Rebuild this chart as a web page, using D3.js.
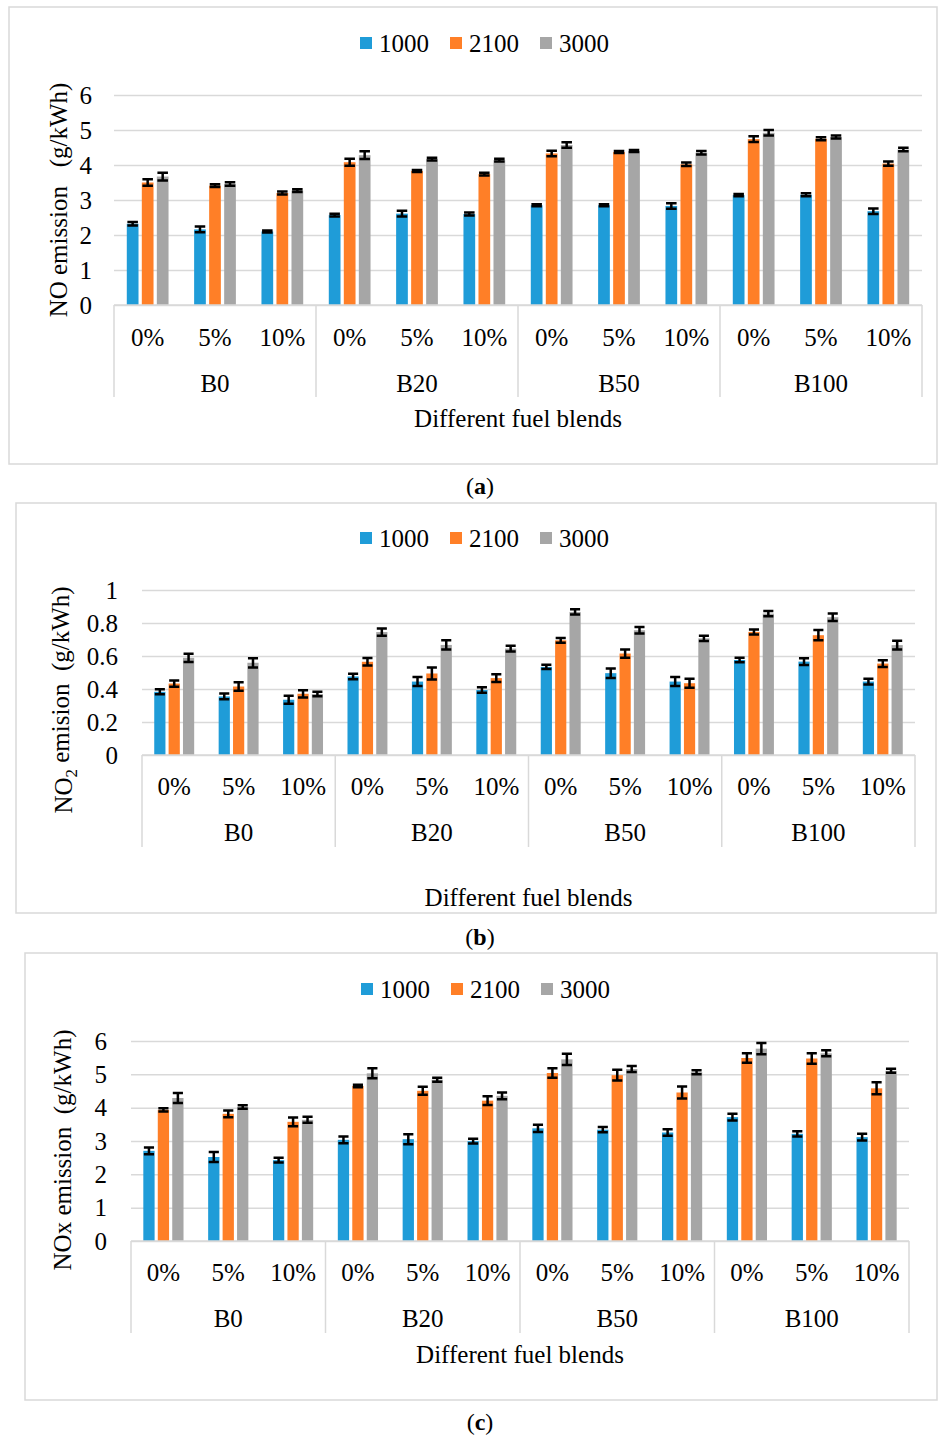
<!DOCTYPE html>
<html>
<head>
<meta charset="utf-8">
<script src="https://cdn.jsdelivr.net/npm/d3@7"></script>
<style>
body { margin: 0; background: #fff; }
svg { display: block; }
text { font-family: "Liberation Serif", "Times New Roman", serif; fill: #000; }
</style>
</head>
<body>
<div id="chart"></div>
<script>
// categories
var subLabels = ['0%', '5%', '10%'];
var blendLabels = ['B0', 'B20', 'B50', 'B100'];
var seriesNames = ['1000', '2100', '3000'];
var colors = ['#1f9cd8', '#ff7f27', '#a6a6a6'];

// (a) NO emission, 12 bars per series (B0 0/5/10, B20 ..., B50 ..., B100 ...)
var no1000 = [2.32, 2.16, 2.10, 2.57, 2.61, 2.60, 2.85, 2.85, 2.83, 3.14, 3.15, 2.68];
var no2100 = [3.50, 3.41, 3.20, 4.08, 3.83, 3.74, 4.33, 4.37, 4.02, 4.74, 4.75, 4.04];
var no3000 = [3.67, 3.46, 3.27, 4.28, 4.17, 4.14, 4.57, 4.40, 4.35, 4.92, 4.80, 4.44];
var noErr1000 = [0.05, 0.08, 0.03, 0.04, 0.08, 0.04, 0.03, 0.03, 0.08, 0.03, 0.04, 0.08];
var noErr2100 = [0.09, 0.04, 0.04, 0.1, 0.03, 0.04, 0.08, 0.03, 0.05, 0.08, 0.04, 0.06];
var noErr3000 = [0.11, 0.05, 0.04, 0.11, 0.04, 0.04, 0.08, 0.03, 0.05, 0.08, 0.04, 0.05];
var noTicks = [0, 1, 2, 3, 4, 5, 6];
var noTickLabels = ['0', '1', '2', '3', '4', '5', '6'];

// (b) NO2 emission
var no2_1000 = [0.383, 0.355, 0.335, 0.476, 0.445, 0.394, 0.534, 0.496, 0.445, 0.576, 0.566, 0.445];
var no2_2100 = [0.433, 0.415, 0.371, 0.565, 0.494, 0.466, 0.695, 0.615, 0.435, 0.746, 0.726, 0.554];
var no2_3000 = [0.589, 0.559, 0.370, 0.745, 0.667, 0.645, 0.867, 0.756, 0.707, 0.857, 0.835, 0.666];
var no2Err1000 = [0.015, 0.017, 0.024, 0.017, 0.027, 0.016, 0.013, 0.029, 0.027, 0.014, 0.02, 0.017];
var no2Err2100 = [0.019, 0.026, 0.022, 0.023, 0.037, 0.023, 0.014, 0.025, 0.027, 0.015, 0.031, 0.02];
var no2Err3000 = [0.025, 0.028, 0.014, 0.022, 0.028, 0.017, 0.016, 0.02, 0.016, 0.016, 0.023, 0.027];
var no2Ticks = [0, 0.2, 0.4, 0.6, 0.8, 1];
var no2TickLabels = ['0', '0.2', '0.4', '0.6', '0.8', '1'];

// (c) NOx emission
var nox1000 = [2.705, 2.52, 2.425, 3.035, 3.055, 2.995, 3.38, 3.34, 3.255, 3.715, 3.215, 3.115];
var nox2100 = [3.935, 3.815, 3.575, 4.65, 4.505, 4.21, 5.04, 4.975, 4.455, 5.49, 5.475, 4.58];
var nox3000 = [4.29, 4.02, 3.635, 5.03, 4.84, 4.355, 5.45, 5.16, 5.065, 5.77, 5.63, 5.105];
var noxErr1000 = [0.1, 0.15, 0.07, 0.1, 0.15, 0.07, 0.11, 0.08, 0.1, 0.1, 0.08, 0.1];
var noxErr2100 = [0.05, 0.1, 0.13, 0.04, 0.12, 0.13, 0.14, 0.16, 0.18, 0.14, 0.16, 0.18];
var noxErr3000 = [0.15, 0.05, 0.09, 0.15, 0.06, 0.1, 0.17, 0.09, 0.06, 0.17, 0.09, 0.06];
var noxTicks = [0, 1, 2, 3, 4, 5, 6];
var noxTickLabels = ['0', '1', '2', '3', '4', '5', '6'];

var fs = 25;

var svg = d3.select('#chart')
    .append('svg')
    .attr('width', 939)
    .attr('height', 1436);

var panels = [
    {values: [no1000, no2100, no3000], errs: [noErr1000, noErr2100, noErr3000],
     ticks: noTicks, tickLabels: noTickLabels, max: 6, caption: 'a',
     box: [9, 7, 928, 457], legendX: 360, legendY: 43,
     left: 114, right: 922, y0: 305, yTop: 95, tickPad: 22,
     titleX: 58, titleY: 200, yTitle: ['NO emission   (g/kWh)'],
     subY: 337, groupY: 383, axisBottom: 397, xTitleY: 418, captionY: 486},
    {values: [no2_1000, no2_2100, no2_3000], errs: [no2Err1000, no2Err2100, no2Err3000],
     ticks: no2Ticks, tickLabels: no2TickLabels, max: 1, caption: 'b',
     box: [16, 503, 920, 410], legendX: 360, legendY: 538,
     left: 142, right: 915, y0: 755, yTop: 590, tickPad: 24,
     titleX: 63, titleY: 700, yTitle: ['NO', '2', ' emision  (g/kWh)'],
     subY: 786, groupY: 832, axisBottom: 847, xTitleY: 897, captionY: 937},
    {values: [nox1000, nox2100, nox3000], errs: [noxErr1000, noxErr2100, noxErr3000],
     ticks: noxTicks, tickLabels: noxTickLabels, max: 6, caption: 'c',
     box: [25, 953, 912, 447], legendX: 361, legendY: 989,
     left: 131, right: 909, y0: 1241, yTop: 1041, tickPad: 24,
     titleX: 62, titleY: 1150, yTitle: ['NOx emission  (g/kWh)'],
     subY: 1272, groupY: 1318, axisBottom: 1333, xTitleY: 1354, captionY: 1422}
];

panels.forEach(drawPanel);

function drawPanel(p) {
    var g = svg.append('g');

    g.append('rect')
        .attr('x', p.box[0]).attr('y', p.box[1])
        .attr('width', p.box[2]).attr('height', p.box[3])
        .attr('fill', 'none')
        .attr('stroke', '#d9d9d9')
        .attr('stroke-width', 1.5);

    // scales
    var cats = d3.range(blendLabels.length * subLabels.length);
    var x = d3.scaleBand().domain(cats).range([p.left, p.right]);
    var xs = d3.scaleBand().domain(seriesNames)
        .range([x.step() * 0.19, x.step() * 0.81])
        .paddingInner(0.22);
    var gx = d3.scaleBand().domain(blendLabels).range([p.left, p.right]);
    var y = d3.scaleLinear().domain([0, p.max]).range([p.y0, p.yTop]);

    // gridlines and y tick labels
    var yAxis = d3.axisLeft(y)
        .tickValues(p.ticks)
        .tickSize(-(p.right - p.left))
        .tickPadding(p.tickPad)
        .tickFormat(function(d, i) { return p.tickLabels[i]; });

    var ya = g.append('g')
        .attr('transform', 'translate(' + p.left + ',0)')
        .call(yAxis);
    ya.select('.domain').remove();
    ya.selectAll('line').attr('stroke', '#d9d9d9').attr('stroke-width', 1.5);
    ya.selectAll('text')
        .style('font-family', '"Liberation Serif", serif')
        .style('font-size', fs + 'px')
        .attr('fill', '#000');

    // bars
    seriesNames.forEach(function(s, si) {
        g.append('g').selectAll('rect')
            .data(p.values[si])
            .enter().append('rect')
            .attr('x', function(d, i) { return x(i) + xs(s); })
            .attr('y', function(d) { return y(d); })
            .attr('width', xs.bandwidth())
            .attr('height', function(d) { return p.y0 - y(d); })
            .attr('fill', colors[si]);
    });

    // error bars
    seriesNames.forEach(function(s, si) {
        var cap = xs.bandwidth() * 0.45;
        g.append('g').selectAll('path')
            .data(p.values[si])
            .enter().append('path')
            .attr('d', function(d, i) {
                var cx = x(i) + xs(s) + xs.bandwidth() / 2;
                var e = p.errs[si][i];
                var y1 = y(d + e), y2 = y(d - e);
                return 'M' + (cx - cap) + ',' + y1 + 'H' + (cx + cap) +
                    'M' + cx + ',' + y1 + 'V' + y2 +
                    'M' + (cx - cap) + ',' + y2 + 'H' + (cx + cap);
            })
            .attr('fill', 'none')
            .attr('stroke', '#000')
            .attr('stroke-width', 2.5);
    });

    // category axis (two levels)
    g.append('line')
        .attr('x1', p.left).attr('x2', p.right)
        .attr('y1', p.y0).attr('y2', p.y0)
        .attr('stroke', '#d9d9d9').attr('stroke-width', 1.5);

    var seps = blendLabels.map(function(b) { return gx(b); }).concat([p.right]);
    g.append('g').selectAll('line')
        .data(seps)
        .enter().append('line')
        .attr('x1', function(d) { return d; })
        .attr('x2', function(d) { return d; })
        .attr('y1', p.y0).attr('y2', p.axisBottom)
        .attr('stroke', '#d9d9d9').attr('stroke-width', 1.5);

    var xa = g.append('g')
        .attr('transform', 'translate(0,' + p.y0 + ')')
        .call(d3.axisBottom(x).tickSize(0).tickFormat(function(i) {
            return subLabels[i % subLabels.length];
        }));
    xa.select('.domain').remove();
    xa.selectAll('text')
        .attr('y', p.subY - p.y0)
        .attr('dy', '0.35em')
        .attr('fill', '#000')
        .style('font-family', '"Liberation Serif", serif')
        .style('font-size', fs + 'px');

    g.append('g').selectAll('text')
        .data(blendLabels)
        .enter().append('text')
        .attr('x', function(d) { return gx(d) + gx.bandwidth() / 2; })
        .attr('y', p.groupY)
        .attr('dy', '0.35em')
        .attr('text-anchor', 'middle')
        .style('font-size', fs + 'px')
        .text(function(d) { return d; });

    g.append('text')
        .attr('x', (p.left + p.right) / 2)
        .attr('y', p.xTitleY)
        .attr('dy', '0.35em')
        .attr('text-anchor', 'middle')
        .style('font-size', fs + 'px')
        .text('Different fuel blends');

    // y title
    var yt = g.append('text')
        .attr('transform', 'translate(' + p.titleX + ',' + p.titleY + ') rotate(-90)')
        .attr('dy', '0.35em')
        .attr('text-anchor', 'middle')
        .attr('xml:space', 'preserve')
        .style('white-space', 'pre')
        .style('font-size', fs + 'px');
    if (p.yTitle.length === 1) {
        yt.text(p.yTitle[0]);
    } else {
        yt.append('tspan').text(p.yTitle[0]);
        yt.append('tspan').attr('dy', '0.3em').style('font-size', '17px').text(p.yTitle[1]);
        yt.append('tspan').attr('dy', '-0.3em').text(p.yTitle[2]);
    }

    // legend
    var lg = g.append('g').attr('transform', 'translate(' + p.legendX + ',' + p.legendY + ')');
    seriesNames.forEach(function(s, si) {
        var ox = si * 90;
        lg.append('rect')
            .attr('x', ox).attr('y', -6)
            .attr('width', 12).attr('height', 12)
            .attr('fill', colors[si]);
        lg.append('text')
            .attr('x', ox + 19).attr('y', 0)
            .attr('dy', '0.35em')
            .style('font-size', fs + 'px')
            .text(s);
    });

    // caption
    var cap = g.append('text')
        .attr('x', 480).attr('y', p.captionY)
        .attr('dy', '0.35em')
        .attr('text-anchor', 'middle')
        .style('font-size', '24px');
    cap.append('tspan').text('(');
    cap.append('tspan').style('font-weight', 'bold').text(p.caption);
    cap.append('tspan').text(')');
}
</script>
</body>
</html>
